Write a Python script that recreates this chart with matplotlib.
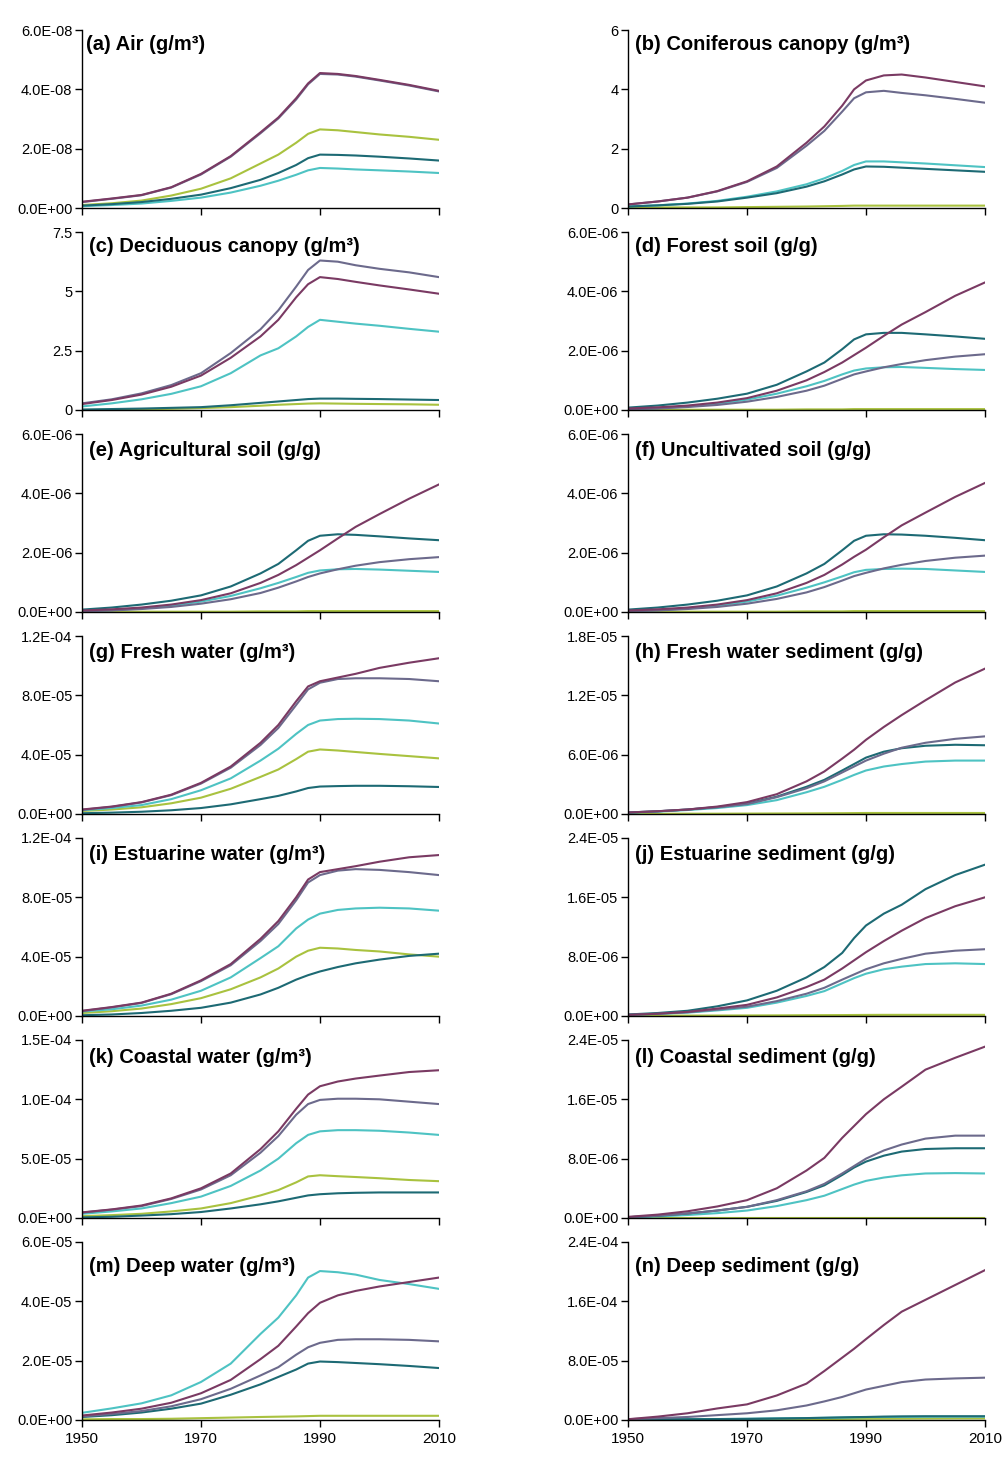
import numpy as np
import matplotlib
matplotlib.use('Agg')
import matplotlib.pyplot as plt

plt.rcParams['font.family'] = ['Liberation Sans', 'DejaVu Sans']

years = [1950, 1955, 1960, 1965, 1970, 1975, 1980, 1983, 1986, 1988,
         1990, 1993, 1996, 2000, 2005, 2010]

# series order in every panel: maroon, slate, cyan, yellow, teal
colors = ['#7a3a63', '#6c6a8c', '#4ec3c3', '#a9c23f', '#1d6a74']
draw_order = [3, 2, 4, 1, 0]

# (a) air, x1e-8
air_maroon = [0.21, 0.32, 0.44, 0.70, 1.15, 1.75, 2.55, 3.05, 3.70, 4.20, 4.55, 4.52, 4.45, 4.32, 4.15, 3.95]
air_slate = [0.20, 0.31, 0.43, 0.69, 1.13, 1.73, 2.52, 3.02, 3.66, 4.17, 4.52, 4.50, 4.43, 4.30, 4.13, 3.93]
air_cyan = [0.06, 0.10, 0.15, 0.24, 0.35, 0.52, 0.75, 0.92, 1.12, 1.27, 1.35, 1.33, 1.30, 1.27, 1.23, 1.18]
air_yellow = [0.10, 0.16, 0.25, 0.42, 0.65, 1.00, 1.50, 1.80, 2.20, 2.50, 2.65, 2.62, 2.56, 2.48, 2.40, 2.30]
air_teal = [0.08, 0.13, 0.20, 0.31, 0.45, 0.67, 0.95, 1.18, 1.45, 1.68, 1.80, 1.79, 1.77, 1.73, 1.67, 1.60]

# (b) coniferous canopy
con_maroon = [0.12, 0.22, 0.35, 0.57, 0.90, 1.40, 2.20, 2.75, 3.45, 4.00, 4.30, 4.47, 4.50, 4.40, 4.25, 4.10]
con_slate = [0.12, 0.22, 0.35, 0.56, 0.88, 1.35, 2.10, 2.60, 3.25, 3.70, 3.90, 3.95, 3.88, 3.80, 3.68, 3.55]
con_cyan = [0.05, 0.09, 0.15, 0.24, 0.38, 0.56, 0.80, 1.00, 1.25, 1.45, 1.57, 1.57, 1.54, 1.50, 1.44, 1.38]
con_yellow = [0.02, 0.02, 0.02, 0.02, 0.03, 0.04, 0.05, 0.06, 0.07, 0.08, 0.08, 0.08, 0.08, 0.08, 0.08, 0.08]
con_teal = [0.05, 0.09, 0.14, 0.22, 0.35, 0.50, 0.72, 0.90, 1.13, 1.30, 1.40, 1.39, 1.36, 1.32, 1.27, 1.22]

# (c) deciduous canopy
dec_maroon = [0.25, 0.42, 0.65, 0.98, 1.45, 2.20, 3.10, 3.80, 4.75, 5.30, 5.60, 5.52, 5.40, 5.25, 5.08, 4.90]
dec_slate = [0.28, 0.45, 0.70, 1.05, 1.55, 2.40, 3.40, 4.20, 5.20, 5.90, 6.30, 6.25, 6.10, 5.95, 5.80, 5.60]
dec_cyan = [0.15, 0.28, 0.45, 0.68, 1.00, 1.55, 2.30, 2.60, 3.10, 3.50, 3.80, 3.72, 3.64, 3.55, 3.42, 3.30]
dec_yellow = [0.00, 0.01, 0.03, 0.05, 0.08, 0.12, 0.18, 0.22, 0.25, 0.27, 0.28, 0.27, 0.26, 0.25, 0.24, 0.22]
dec_teal = [0.02, 0.04, 0.06, 0.09, 0.12, 0.20, 0.30, 0.36, 0.42, 0.46, 0.48, 0.48, 0.47, 0.46, 0.44, 0.42]

# (d) forest soil, x1e-6
for_maroon = [0.05, 0.09, 0.15, 0.25, 0.40, 0.65, 1.00, 1.28, 1.60, 1.85, 2.10, 2.50, 2.88, 3.30, 3.85, 4.30]
for_slate = [0.02, 0.05, 0.10, 0.17, 0.28, 0.44, 0.65, 0.82, 1.05, 1.20, 1.30, 1.44, 1.55, 1.68, 1.80, 1.88]
for_cyan = [0.03, 0.06, 0.12, 0.21, 0.35, 0.55, 0.80, 0.98, 1.20, 1.33, 1.40, 1.44, 1.45, 1.42, 1.38, 1.35]
for_yellow = [0.01, 0.01, 0.01, 0.01, 0.01, 0.01, 0.02, 0.02, 0.02, 0.03, 0.03, 0.03, 0.03, 0.03, 0.03, 0.03]
for_teal = [0.08, 0.15, 0.25, 0.38, 0.55, 0.85, 1.30, 1.60, 2.05, 2.38, 2.55, 2.60, 2.60, 2.55, 2.48, 2.40]

# (e) agricultural soil, x1e-6
agr_maroon = [0.05, 0.09, 0.15, 0.25, 0.40, 0.63, 0.98, 1.25, 1.58, 1.83, 2.08, 2.48, 2.87, 3.30, 3.82, 4.30]
agr_slate = [0.02, 0.05, 0.10, 0.17, 0.28, 0.43, 0.64, 0.82, 1.03, 1.18, 1.30, 1.44, 1.56, 1.68, 1.78, 1.85]
agr_cyan = [0.03, 0.06, 0.12, 0.21, 0.35, 0.54, 0.80, 0.98, 1.18, 1.32, 1.40, 1.44, 1.45, 1.43, 1.39, 1.35]
agr_yellow = [0.01, 0.01, 0.01, 0.01, 0.01, 0.01, 0.02, 0.02, 0.02, 0.03, 0.03, 0.03, 0.03, 0.03, 0.03, 0.03]
agr_teal = [0.08, 0.15, 0.25, 0.38, 0.56, 0.86, 1.30, 1.62, 2.08, 2.40, 2.57, 2.62, 2.60, 2.55, 2.48, 2.42]

# (f) uncultivated soil, x1e-6
unc_maroon = [0.05, 0.09, 0.15, 0.25, 0.40, 0.63, 0.98, 1.25, 1.60, 1.86, 2.10, 2.52, 2.92, 3.35, 3.88, 4.35]
unc_slate = [0.02, 0.05, 0.10, 0.17, 0.28, 0.44, 0.66, 0.84, 1.06, 1.21, 1.32, 1.47, 1.59, 1.72, 1.83, 1.90]
unc_cyan = [0.03, 0.06, 0.12, 0.21, 0.35, 0.55, 0.82, 1.00, 1.20, 1.34, 1.42, 1.45, 1.46, 1.45, 1.40, 1.35]
unc_yellow = [0.01, 0.01, 0.01, 0.01, 0.01, 0.01, 0.02, 0.02, 0.02, 0.03, 0.03, 0.03, 0.03, 0.03, 0.03, 0.03]
unc_teal = [0.08, 0.15, 0.25, 0.38, 0.56, 0.86, 1.30, 1.62, 2.08, 2.40, 2.57, 2.62, 2.61, 2.57, 2.50, 2.42]

# (g) fresh water, x1e-5
fw_maroon = [0.30, 0.50, 0.80, 1.30, 2.10, 3.20, 4.80, 6.00, 7.60, 8.60, 8.95, 9.20, 9.45, 9.85, 10.20, 10.50]
fw_slate = [0.28, 0.48, 0.78, 1.27, 2.05, 3.12, 4.65, 5.80, 7.35, 8.40, 8.85, 9.10, 9.15, 9.15, 9.10, 8.95]
fw_cyan = [0.25, 0.40, 0.60, 1.00, 1.60, 2.40, 3.60, 4.40, 5.40, 6.00, 6.30, 6.40, 6.42, 6.40, 6.30, 6.10]
fw_yellow = [0.20, 0.30, 0.45, 0.72, 1.10, 1.70, 2.50, 3.00, 3.70, 4.20, 4.35, 4.28, 4.18, 4.05, 3.90, 3.75]
fw_teal = [0.05, 0.09, 0.15, 0.25, 0.40, 0.65, 1.00, 1.22, 1.52, 1.75, 1.85, 1.88, 1.90, 1.90, 1.87, 1.82]

# (h) fresh water sediment, x1e-6
fws_maroon = [0.15, 0.28, 0.45, 0.75, 1.20, 2.00, 3.30, 4.30, 5.60, 6.50, 7.50, 8.80, 10.00, 11.50, 13.30, 14.70]
fws_slate = [0.15, 0.27, 0.45, 0.68, 1.00, 1.70, 2.60, 3.30, 4.20, 4.80, 5.40, 6.10, 6.70, 7.20, 7.60, 7.85]
fws_cyan = [0.12, 0.24, 0.40, 0.60, 0.90, 1.40, 2.20, 2.75, 3.45, 3.95, 4.40, 4.80, 5.05, 5.30, 5.40, 5.40]
fws_yellow = [0.02, 0.02, 0.03, 0.03, 0.04, 0.05, 0.06, 0.07, 0.08, 0.09, 0.10, 0.10, 0.10, 0.10, 0.10, 0.10]
fws_teal = [0.15, 0.27, 0.45, 0.70, 1.05, 1.75, 2.75, 3.45, 4.40, 5.05, 5.70, 6.30, 6.65, 6.90, 7.00, 6.95]

# (i) estuarine water, x1e-5
ew_maroon = [0.35, 0.60, 0.90, 1.50, 2.40, 3.50, 5.20, 6.40, 8.00, 9.20, 9.70, 9.90, 10.10, 10.40, 10.70, 10.85]
ew_slate = [0.33, 0.58, 0.88, 1.47, 2.35, 3.42, 5.05, 6.20, 7.80, 9.00, 9.50, 9.80, 9.90, 9.85, 9.70, 9.50]
ew_cyan = [0.30, 0.45, 0.70, 1.10, 1.70, 2.60, 3.90, 4.70, 5.90, 6.50, 6.90, 7.15, 7.25, 7.30, 7.25, 7.10]
ew_yellow = [0.20, 0.32, 0.50, 0.80, 1.20, 1.80, 2.60, 3.20, 4.00, 4.40, 4.60, 4.55, 4.45, 4.35, 4.15, 4.00]
ew_teal = [0.05, 0.10, 0.20, 0.35, 0.55, 0.90, 1.45, 1.90, 2.45, 2.75, 3.00, 3.30, 3.55, 3.80, 4.05, 4.20]

# (j) estuarine sediment, x1e-6
es_maroon = [0.15, 0.30, 0.55, 1.00, 1.50, 2.50, 3.90, 4.90, 6.40, 7.50, 8.60, 10.10, 11.50, 13.20, 14.80, 16.00]
es_slate = [0.15, 0.30, 0.50, 0.85, 1.25, 2.00, 3.00, 3.80, 4.90, 5.60, 6.30, 7.10, 7.70, 8.40, 8.80, 9.00]
es_cyan = [0.15, 0.28, 0.45, 0.75, 1.10, 1.80, 2.70, 3.35, 4.40, 5.10, 5.70, 6.30, 6.65, 7.00, 7.10, 7.00]
es_yellow = [0.05, 0.05, 0.05, 0.06, 0.07, 0.08, 0.10, 0.11, 0.12, 0.13, 0.14, 0.15, 0.15, 0.15, 0.15, 0.15]
es_teal = [0.20, 0.40, 0.70, 1.30, 2.10, 3.40, 5.20, 6.60, 8.50, 10.50, 12.20, 13.80, 15.00, 17.10, 19.00, 20.40]

# (k) coastal water, x1e-5
cw_maroon = [0.47, 0.72, 1.05, 1.65, 2.50, 3.75, 5.80, 7.30, 9.20, 10.40, 11.10, 11.50, 11.75, 12.00, 12.30, 12.45]
cw_slate = [0.45, 0.70, 1.00, 1.60, 2.40, 3.60, 5.50, 6.90, 8.70, 9.60, 9.95, 10.05, 10.05, 10.00, 9.80, 9.60]
cw_cyan = [0.35, 0.55, 0.80, 1.25, 1.80, 2.70, 4.00, 5.00, 6.30, 7.00, 7.30, 7.40, 7.40, 7.35, 7.20, 7.00]
cw_yellow = [0.15, 0.24, 0.35, 0.55, 0.80, 1.25, 1.90, 2.35, 3.00, 3.50, 3.60, 3.52, 3.45, 3.35, 3.20, 3.10]
cw_teal = [0.05, 0.10, 0.20, 0.32, 0.50, 0.80, 1.15, 1.40, 1.70, 1.90, 2.00, 2.08, 2.12, 2.15, 2.15, 2.15]

# (l) coastal sediment, x1e-6
cs_maroon = [0.15, 0.45, 0.90, 1.55, 2.40, 4.00, 6.40, 8.10, 10.80, 12.40, 14.00, 16.00, 17.70, 20.00, 21.60, 23.10]
cs_slate = [0.10, 0.30, 0.60, 1.00, 1.50, 2.40, 3.60, 4.60, 6.00, 7.00, 8.00, 9.10, 9.90, 10.70, 11.10, 11.10]
cs_cyan = [0.08, 0.20, 0.40, 0.65, 1.00, 1.60, 2.40, 3.00, 3.90, 4.50, 5.00, 5.45, 5.75, 6.00, 6.05, 6.00]
cs_yellow = [0.05, 0.05, 0.05, 0.05, 0.05, 0.05, 0.05, 0.05, 0.05, 0.05, 0.05, 0.05, 0.05, 0.05, 0.05, 0.05]
cs_teal = [0.10, 0.30, 0.60, 1.00, 1.50, 2.30, 3.50, 4.40, 5.80, 6.80, 7.60, 8.40, 8.95, 9.30, 9.40, 9.40]

# (m) deep water, x1e-5
dw_maroon = [0.15, 0.25, 0.38, 0.58, 0.90, 1.35, 2.05, 2.50, 3.15, 3.60, 3.95, 4.20, 4.35, 4.50, 4.65, 4.80]
dw_slate = [0.12, 0.20, 0.30, 0.46, 0.70, 1.05, 1.50, 1.78, 2.20, 2.45, 2.60, 2.70, 2.72, 2.72, 2.70, 2.65]
dw_cyan = [0.24, 0.39, 0.56, 0.83, 1.28, 1.90, 2.90, 3.45, 4.20, 4.80, 5.02, 4.98, 4.90, 4.72, 4.58, 4.42]
dw_yellow = [0.02, 0.03, 0.03, 0.04, 0.06, 0.08, 0.10, 0.11, 0.12, 0.13, 0.14, 0.14, 0.14, 0.14, 0.14, 0.14]
dw_teal = [0.10, 0.16, 0.25, 0.38, 0.55, 0.85, 1.20, 1.45, 1.70, 1.90, 1.97, 1.95, 1.92, 1.88, 1.82, 1.75]

# (n) deep sediment, x1e-5
ds_maroon = [0.10, 0.45, 0.90, 1.55, 2.10, 3.30, 4.90, 6.60, 8.40, 9.60, 10.90, 12.80, 14.60, 16.20, 18.20, 20.20]
ds_slate = [0.10, 0.25, 0.40, 0.65, 0.90, 1.30, 1.95, 2.50, 3.10, 3.60, 4.10, 4.60, 5.10, 5.45, 5.60, 5.70]
ds_cyan = [0.05, 0.08, 0.10, 0.12, 0.15, 0.20, 0.25, 0.28, 0.32, 0.35, 0.38, 0.40, 0.42, 0.44, 0.45, 0.45]
ds_yellow = [0.05, 0.06, 0.07, 0.08, 0.09, 0.10, 0.12, 0.13, 0.14, 0.15, 0.16, 0.17, 0.18, 0.19, 0.20, 0.20]
ds_teal = [0.10, 0.10, 0.10, 0.12, 0.15, 0.20, 0.25, 0.30, 0.35, 0.38, 0.40, 0.45, 0.48, 0.50, 0.50, 0.50]

# title, unit scale, y ticks, tick style, title y
panels = [
    ('(a) Air (g/m³)', 1e-8, [0, 2e-8, 4e-8, 6e-8], 'sci', 0.92,
     [air_maroon, air_slate, air_cyan, air_yellow, air_teal]),
    ('(b) Coniferous canopy (g/m³)', 1, [0, 2, 4, 6], 'plain', 0.92,
     [con_maroon, con_slate, con_cyan, con_yellow, con_teal]),
    ('(c) Deciduous canopy (g/m³)', 1, [0, 2.5, 5, 7.5], 'plain', 0.92,
     [dec_maroon, dec_slate, dec_cyan, dec_yellow, dec_teal]),
    ('(d) Forest soil (g/g)', 1e-6, [0, 2e-6, 4e-6, 6e-6], 'sci', 0.92,
     [for_maroon, for_slate, for_cyan, for_yellow, for_teal]),
    ('(e) Agricultural soil (g/g)', 1e-6, [0, 2e-6, 4e-6, 6e-6], 'sci', 0.91,
     [agr_maroon, agr_slate, agr_cyan, agr_yellow, agr_teal]),
    ('(f) Uncultivated soil (g/g)', 1e-6, [0, 2e-6, 4e-6, 6e-6], 'sci', 0.91,
     [unc_maroon, unc_slate, unc_cyan, unc_yellow, unc_teal]),
    ('(g) Fresh water (g/m³)', 1e-5, [0, 4e-5, 8e-5, 1.2e-4], 'sci', 0.905,
     [fw_maroon, fw_slate, fw_cyan, fw_yellow, fw_teal]),
    ('(h) Fresh water sediment (g/g)', 1e-6, [0, 6e-6, 1.2e-5, 1.8e-5], 'sci', 0.905,
     [fws_maroon, fws_slate, fws_cyan, fws_yellow, fws_teal]),
    ('(i) Estuarine water (g/m³)', 1e-5, [0, 4e-5, 8e-5, 1.2e-4], 'sci', 0.905,
     [ew_maroon, ew_slate, ew_cyan, ew_yellow, ew_teal]),
    ('(j) Estuarine sediment (g/g)', 1e-6, [0, 8e-6, 1.6e-5, 2.4e-5], 'sci', 0.905,
     [es_maroon, es_slate, es_cyan, es_yellow, es_teal]),
    ('(k) Coastal water (g/m³)', 1e-5, [0, 5e-5, 1e-4, 1.5e-4], 'sci', 0.9,
     [cw_maroon, cw_slate, cw_cyan, cw_yellow, cw_teal]),
    ('(l) Coastal sediment (g/g)', 1e-6, [0, 8e-6, 1.6e-5, 2.4e-5], 'sci', 0.9,
     [cs_maroon, cs_slate, cs_cyan, cs_yellow, cs_teal]),
    ('(m) Deep water (g/m³)', 1e-5, [0, 2e-5, 4e-5, 6e-5], 'sci', 0.865,
     [dw_maroon, dw_slate, dw_cyan, dw_yellow, dw_teal]),
    ('(n) Deep sediment (g/g)', 1e-5, [0, 8e-5, 1.6e-4, 2.4e-4], 'sci', 0.865,
     [ds_maroon, ds_slate, ds_cyan, ds_yellow, ds_teal]),
]

xticks = [1950, 1970, 1990, 2010]

fig, axes = plt.subplots(7, 2, figsize=(10.03, 14.58), dpi=100)
fig.subplots_adjust(left=0.0818, right=0.982, top=0.9794, bottom=0.0261,
                    hspace=0.135, wspace=0.53)

for k, (title, scale, yt, style, ty, series) in enumerate(panels):
    ax = axes[k // 2, k % 2]
    yrs = np.array(years)
    for i in draw_order:
        ax.plot(yrs, np.array(series[i]) * scale, color=colors[i], lw=1.5,
                solid_joinstyle='round')
    ax.set_xlim(1950, 2010)
    ax.set_ylim(0, yt[-1])
    ax.set_yticks(yt)
    if style == 'sci':
        ax.set_yticklabels([f'{v:.1E}' for v in yt])
    else:
        ax.set_yticklabels([f'{v:g}' for v in yt])
    ax.set_xticks(xticks)
    if k // 2 == 6:
        ax.set_xticklabels([str(x) for x in xticks])
    else:
        ax.set_xticklabels([])
    for s in ['top', 'right']:
        ax.spines[s].set_visible(False)
    for s in ['left', 'bottom']:
        ax.spines[s].set_linewidth(1.0)
        ax.spines[s].set_color('black')
    ax.tick_params(direction='out', length=5, width=1.0, labelsize=10.5,
                   colors='black', pad=2)
    ax.tick_params(axis='x', pad=4, labelsize=11)
    xoff = 0.012 if k == 0 else 0.02
    ax.text(xoff, ty, title, transform=ax.transAxes, fontsize=14.5,
            fontweight='bold', va='center', ha='left')
    ax.margins(0)

fig.savefig('out.png', dpi=100, facecolor='white')
